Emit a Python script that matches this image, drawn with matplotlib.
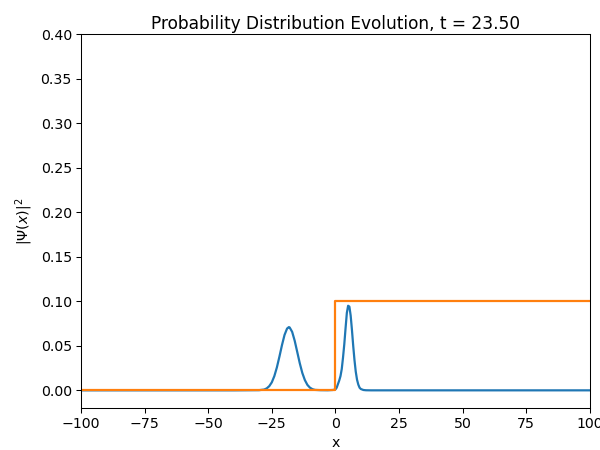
import numpy as np
import matplotlib
matplotlib.use("Agg")
import matplotlib.pyplot as plt

# |psi(x)|^2 at t = 23.50
x_psi = [-100, -40, -30, -28, -27, -26, -25, -24, -23, -22, -21, -20, -19, -18.3, -18,
         -17, -16, -15, -14, -13, -12, -11, -10, -9, -8, -6, -3, -1, 0, 0.5, 1, 1.5,
         2, 2.5, 3, 3.5, 4, 4.5, 5, 5.5, 6, 6.5, 7, 7.5, 8, 8.5, 9, 9.5, 10, 11, 12,
         14, 100]
prob = [0.0, 0.0, 0.0002, 0.0009, 0.0022, 0.0047, 0.0090, 0.0160, 0.0258, 0.0379, 0.0508,
        0.0622, 0.0694, 0.0710, 0.0707, 0.0657, 0.0557, 0.0431, 0.0304, 0.0195, 0.0115,
        0.0061, 0.0030, 0.0013, 0.0005, 0.0002, 0.0001, 0.0004, 0.001, 0.003, 0.007,
        0.011, 0.016, 0.024, 0.037, 0.052, 0.070, 0.087, 0.095, 0.094, 0.084, 0.068,
        0.050, 0.034, 0.021, 0.012, 0.0065, 0.003, 0.0015, 0.0004, 0.0001, 0.0, 0.0]

# step potential (scaled)
x_pot = [-100, 0, 0, 100]
pot = [0.0, 0.0, 0.1, 0.1]

plt.rcParams['font.size'] = 10.9

fig, ax = plt.subplots(figsize=(6.4, 4.8), dpi=93.75)
fig.subplots_adjust(left=0.135, right=0.983, top=0.924, bottom=0.093)

ax.plot(x_psi, prob, color='tab:blue', linewidth=1.7)
ax.plot(x_pot, pot, color='tab:orange', linewidth=1.7)

ax.set_xlim(-100, 100)
ax.set_ylim(-0.02, 0.4)
ax.set_xlabel('x')
ax.set_ylabel(r'$|\Psi(x)|^2$')
ax.set_title('Probability Distribution Evolution, t = 23.50', pad=4)

plt.savefig('out.png', dpi=93.75)
